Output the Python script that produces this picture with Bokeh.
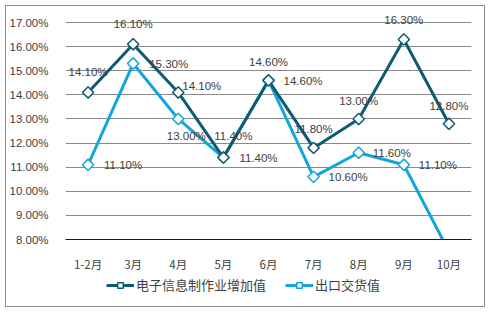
import numpy as np
from bokeh.plotting import figure
from bokeh.layouts import column
from bokeh.models import (ColumnDataSource, FactorRange, Range1d, Legend, LegendItem,
                          PrintfTickFormatter, FixedTicker)
from bokeh.embed import file_html
from bokeh.resources import INLINE
from bokeh.core.properties import value

# Monthly growth rates (%)
months = ["1-2月", "3月", "4月", "5月", "6月", "7月", "8月", "9月", "10月"]
added_value = [14.1, 16.1, 14.1, 11.4, 14.6, 11.8, 13.0, 16.3, 12.8]
export_value = [11.1, 15.3, 13.0, 11.4, 14.6, 10.6, 11.6, 11.1, 7.5]
series_names = ["电子信息制作业增加值", "出口交货值"]
y_ticks = [8, 9, 10, 11, 12, 13, 14, 15, 16, 17]

DARK = "#0F5A74"
LIGHT = "#14A5DC"
TEXT = "#404040"
LATIN = "Liberation Sans"
CJK = "Noto Sans CJK SC"

# label placement per point (pixel offsets and alignment)
dark_dx = [0, 0, 4, 10, 0, 0, 0, 0, 0]
dark_dy = [-20, -20, -6, -22, -18, -19, -18, -19, -18]
dark_align = ["center", "center", "left", "center", "center", "center", "center", "center", "center"]
light_dx = [16, 16, 8, 16, 15, 15, 14, 15]
light_dy = [0, 0, 17, 0, 1, 0, 0, 0]
light_align = ["left", "left", "center", "left", "left", "left", "left", "left"]

p = figure(x_range=FactorRange(*months), y_range=Range1d(8, 17.5),
           width=478, height=268, output_backend="svg", toolbar_location=None,
           min_border_left=59, min_border_right=13, min_border_top=4, min_border_bottom=34)
p.outline_line_color = None
p.background_fill_color = "white"
p.border_fill_color = "white"

p.xgrid.grid_line_color = None
p.ygrid.grid_line_color = "#8a8a8a"
p.ygrid.grid_line_width = 1

p.yaxis.ticker = FixedTicker(ticks=y_ticks)
p.yaxis.formatter = PrintfTickFormatter(format="%.2f%%")
p.yaxis.axis_line_color = None
p.yaxis.major_tick_line_color = None
p.yaxis.minor_tick_line_color = None
p.yaxis.major_label_standoff = 11
p.xaxis.axis_line_color = "#1a1a1a"
p.xaxis.major_tick_line_color = None
p.xaxis.major_label_standoff = 10
for ax in (p.xaxis[0], p.yaxis[0]):
    ax.major_label_text_font = LATIN
    ax.major_label_text_font_size = "11.5px"
    ax.major_label_text_color = TEXT
p.xaxis.major_label_text_font = CJK

src_dark = ColumnDataSource(dict(x=months, y=added_value,
                                 lbl=[f"{v:.2f}%" for v in added_value],
                                 dx=dark_dx, dy=dark_dy, al=dark_align))
src_light = ColumnDataSource(dict(x=months, y=export_value))
n_lab = len(light_dx)
src_light_lbl = ColumnDataSource(dict(x=months[:n_lab], y=export_value[:n_lab],
                                      lbl=[f"{v:.2f}%" for v in export_value[:n_lab]],
                                      dx=light_dx, dy=light_dy, al=light_align))

line_style = dict(line_width=3)
marker_style = dict(marker="square", size=8, angle=np.pi / 4, fill_color="white", line_width=1.5)

p.line("x", "y", source=src_light, line_color=LIGHT, **line_style)
p.line("x", "y", source=src_dark, line_color=DARK, **line_style)
p.scatter("x", "y", source=src_light, line_color=LIGHT, **marker_style)
p.scatter("x", "y", source=src_dark, line_color=DARK, **marker_style)

for s in (src_dark, src_light_lbl):
    p.text("x", "y", text="lbl", source=s, x_offset="dx", y_offset="dy",
           text_align="al", text_baseline="middle", text_color=TEXT,
           text_font=value(LATIN), text_font_size="11.5px")

# legend strip under the chart: same series, drawn out of view, only the key shows
lf = figure(width=478, height=32, x_range=p.x_range, y_range=Range1d(100, 101),
            output_backend="svg", toolbar_location=None,
            x_axis_location=None, y_axis_location=None,
            min_border_left=0, min_border_right=0, min_border_top=0, min_border_bottom=0,
            outline_line_color=None)
lf.grid.visible = False
legend_items = []
for name, color, src in zip(series_names, (DARK, LIGHT), (src_dark, src_light)):
    ln = lf.line("x", "y", source=src, line_color=color, **line_style)
    mk = lf.scatter("x", "y", source=src, line_color=color, **marker_style)
    legend_items.append(LegendItem(label=name, renderers=[ln, mk]))
legend = Legend(items=legend_items, orientation="horizontal", location=(41, 12),
                border_line_color=None, background_fill_alpha=0,
                label_text_font=CJK, label_text_font_size="13px", label_text_color=TEXT,
                glyph_width=28, glyph_height=14, label_standoff=2, spacing=19,
                padding=0, margin=0)
lf.add_layout(legend, "center")

layout = column(p, lf, spacing=0)
layout.margin = (5, 0, 0, 5)
layout.styles = {"border": "1px solid #8c8c8c"}

open("out.html", "w").write(file_html(layout, INLINE))
